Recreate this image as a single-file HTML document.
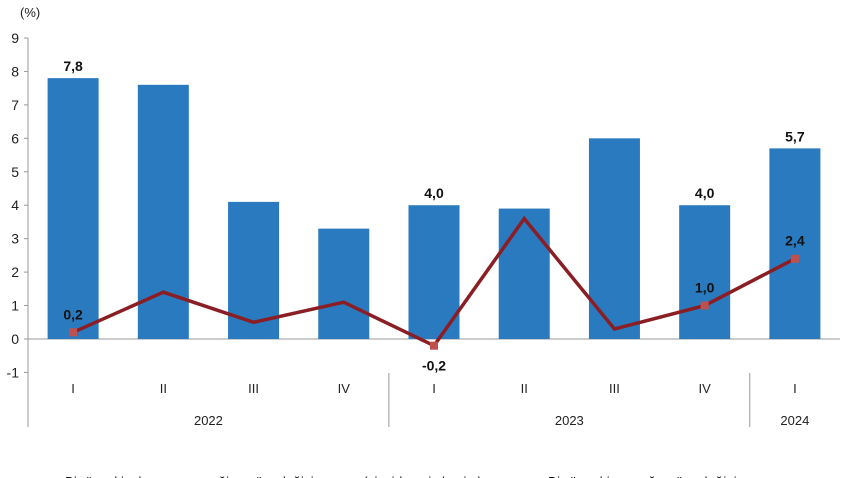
<!DOCTYPE html>
<html><head><meta charset="utf-8"><style>
html,body{margin:0;padding:0;background:#fff;overflow:hidden}
svg{display:block;font-family:"Liberation Sans",Arial,sans-serif}
</style></head><body>
<svg id="chart" width="850" height="478" viewBox="0 0 850 478">
<text x="20" y="17" font-size="13" fill="#222">(%)</text>
<g id="yaxis"></g>
<g id="bars"></g>
<g id="line"></g>
<g id="xaxis"></g>
<g>
 <line x1="35" y1="482" x2="57" y2="482" stroke="#2a7abf" stroke-width="6"/>
 <text x="65" y="486" font-size="13" fill="#111" textLength="417">Bir önceki yılın aynı çeyreğine göre değişim oranı (zincirlenmiş hacim)</text>
 <line x1="515" y1="482" x2="537" y2="482" stroke="#8b1e24" stroke-width="3"/>
 <text x="548" y="486" font-size="13" fill="#111" textLength="200">Bir önceki çeyreğe göre değişim</text>
</g>
</svg>
<script>
const categories=["I","II","III","IV","I","II","III","IV","I"];
const years=["2022","2023","2024"];
const yearCounts=[4,4,1];
const barValues=[7.8,7.6,4.1,3.3,4.0,3.9,6.0,4.0,5.7];
const lineValues=[0.2,1.4,0.5,1.1,-0.2,3.6,0.3,1.0,2.4];
const barLabels=["7,8","","","","4,0","","","4,0","5,7"];
const lineLabels=["0,2","","","","-0,2","","","1,0","2,4"];
const yTicks=[-1,0,1,2,3,4,5,6,7,8,9];

const NS="http://www.w3.org/2000/svg";
const x0=28,x1=840,yTop=38,yZero=339;
const unit=(yZero-yTop)/9;
const slot=(x1-x0)/categories.length;
function yS(v){return yZero-v*unit;}
function xC(i){return x0+slot*(i+0.5);}
function mk(tag,attrs,parent){const e=document.createElementNS(NS,tag);for(const k in attrs)e.setAttribute(k,attrs[k]);parent.appendChild(e);return e;}
const gy=document.getElementById('yaxis'),gb=document.getElementById('bars'),gl=document.getElementById('line'),gx=document.getElementById('xaxis');

let ax=mk('line',{x1:x0,y1:yS(9),x2:x0,y2:427,stroke:'#999'},gy);


yTicks.forEach(v=>{
 const t=mk('line',{x1:x0-4,y1:yS(v),x2:x0,y2:yS(v),stroke:'#999'},gy);
 
 
 const l=mk('text',{x:x0-9,y:yS(v)+5,'font-size':14,'text-anchor':'end',fill:'#222'},gy);
 l.textContent=String(v);
 
 
});

barValues.forEach((v,i)=>{
 const r=mk('rect',{x:xC(i)-25.5,y:yS(v),width:51,height:yZero-yS(v),fill:'#2a7abf'},gb);
 
 
 if(barLabels[i]){
  const t=mk('text',{x:xC(i),y:yS(v)-7,'font-size':14,'font-weight':'bold','text-anchor':'middle',fill:'#111'},gb);
  t.textContent=barLabels[i];
  
  
 }
});
let z=mk('line',{x1:x0,y1:yZero,x2:x1,y2:yZero,stroke:'#999'},gy);



const pts=lineValues.map((v,i)=>xC(i)+','+yS(v)).join(' ');
const pl=mk('polyline',{points:pts,fill:'none',stroke:'#8b1e24','stroke-width':3.5,'stroke-linejoin':'miter'},gl);


lineValues.forEach((v,i)=>{
 if(!lineLabels[i])return;
 const m=mk('rect',{x:xC(i)-4,y:yS(v)-4,width:8,height:8,fill:'#c0504d'},gl);
 
 
 const below=v<0;
 const t=mk('text',{x:xC(i),y:below?yS(v)+25:yS(v)-13,'font-size':14,'font-weight':'bold','text-anchor':'middle',fill:'#111'},gl);
 t.textContent=lineLabels[i];
 
 
});

categories.forEach((c,i)=>{
 const t=mk('text',{x:xC(i),y:393,'font-size':13,'text-anchor':'middle',fill:'#222'},gx);
 t.textContent=c;
 
 
});
let start=0;
years.forEach((y,k)=>{
 const end=start+yearCounts[k];
 const mid=(x0+slot*start+x0+slot*end)/2;
 const t=mk('text',{x:mid,y:425,'font-size':13,'text-anchor':'middle',fill:'#222'},gx);
 t.textContent=y;
 
 
 if(end<categories.length){
  const s=mk('line',{x1:x0+slot*end,y1:373,x2:x0+slot*end,y2:427,stroke:'#999'},gx);
  
  
 }
 start=end;
});
</script>
</body></html>
